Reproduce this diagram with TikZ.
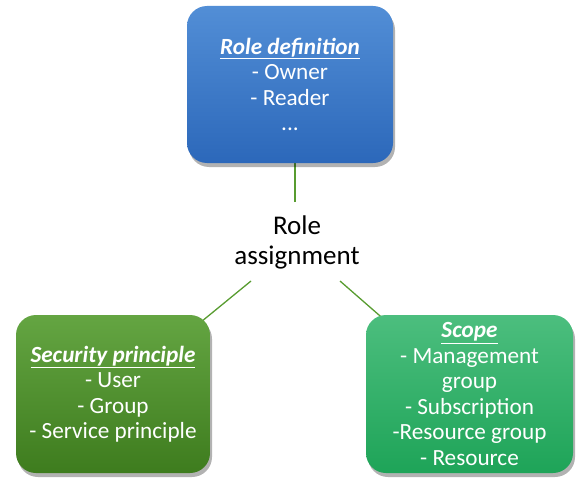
\documentclass[tikz,border=0pt]{standalone}
\usepackage{fontspec}
\setmainfont{Carlito}
\usetikzlibrary{shadows,backgrounds}
\definecolor{blueT}{RGB}{82,142,214}
\definecolor{blueB}{RGB}{44,104,186}
\definecolor{greenT}{RGB}{100,165,66}
\definecolor{greenB}{RGB}{62,124,30}
\definecolor{tealT}{RGB}{76,190,126}
\definecolor{tealB}{RGB}{30,164,88}
\definecolor{linkc}{RGB}{88,156,48}
\tikzset{
  box/.style={rounded corners=20pt, draw=none, align=center, text=white,
    font=\fontsize{23.2}{25.5}\selectfont, inner sep=0pt,
    drop shadow={shadow xshift=2pt, shadow yshift=-4pt, opacity=0.3, fill=black}},
  link/.style={draw=linkc, line width=1.3pt},
}
\newcommand{\ttl}[1]{\underline{\textbf{\textit{#1}}}}
\begin{document}
\begin{tikzpicture}[x=1pt,y=-1pt]
\useasboundingbox (0,0) rectangle (585,484);
\node[box, top color=blueT, bottom color=blueB, minimum width=206pt, minimum height=157pt]
  (def) at (290,84.5) {\ttl{Role definition}\\- Owner\\- Reader\\...};
\node[box, top color=greenT, bottom color=greenB, minimum width=194pt, minimum height=158pt]
  (sec) at (113,394) {\ttl{Security principle}\\- User\\- Group\\- Service principle};
\node[box, top color=tealT, bottom color=tealB, minimum width=207pt, minimum height=158pt]
  (scope) at (469.5,394) {\ttl{Scope}\\- Management\\group\\- Subscription\\-Resource group\\- Resource};
\node[align=center, font=\fontsize{27}{30}\selectfont] (ra) at (297,242) {Role\\assignment};
\coordinate (raT) at (295,202);
\coordinate (raL) at (251,281);
\coordinate (raR) at (340,281);
\begin{pgfonlayer}{background}
\draw[link] (raT) -- (raT |- def.center);
\draw[link] (raL) -- (sec.center);
\draw[link] (raR) -- (scope.center);
\end{pgfonlayer}
\end{tikzpicture}
\end{document}
